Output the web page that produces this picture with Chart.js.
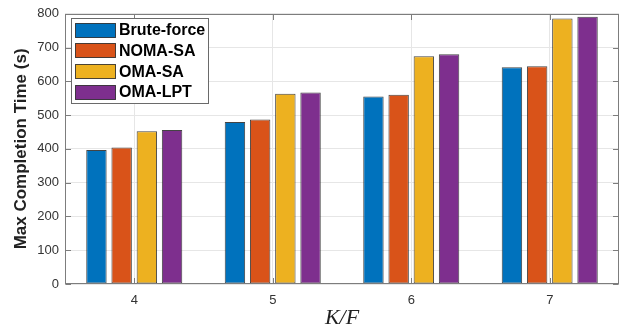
<!DOCTYPE html>
<html>
<head>
<meta charset="utf-8">
<script src="https://cdn.jsdelivr.net/npm/chart.js@4.4.1/dist/chart.umd.min.js"></script>
<style>
  html, body { margin: 0; padding: 0; background: #fff; }
  #wrap { width: 630px; height: 329px; }
</style>
</head>
<body>
<div id="wrap"><canvas id="c" width="630" height="329"></canvas></div>
<script>
const categories = ['4', '5', '6', '7'];
const seriesNames = ['Brute-force', 'NOMA-SA', 'OMA-SA', 'OMA-LPT'];
const bruteForce = [397, 480, 555, 642];
const nomaSA = [404, 487, 560, 645];
const omaSA = [452, 563, 674, 786];
const omaLPT = [456, 567, 680, 791];
const yTicks = [0, 100, 200, 300, 400, 500, 600, 700, 800];
const colors = ['#0072BD', '#D95319', '#EDB120', '#7E2F8E'];

const seriesValues = [bruteForce, nomaSA, omaSA, omaLPT];

const boxPlugin = {
  id: 'matlabBox',
  afterDatasetsDraw(chart) {
    const { ctx, chartArea: { left, right, top, bottom }, scales: { x, y } } = chart;
    ctx.save();
    ctx.strokeStyle = '#7d7d7d';
    ctx.lineWidth = 1;
    const L = Math.round(left) + 0.5, R = Math.round(right) - 0.5;
    const T = Math.round(top) + 0.5, B = Math.round(bottom) - 0.5;
    ctx.strokeRect(L, T, R - L, B - T);
    ctx.beginPath();
    yTicks.forEach(v => {
      const py = Math.round(y.getPixelForValue(v)) + 0.5;
      ctx.moveTo(L, py); ctx.lineTo(L + 5.5, py);
      ctx.moveTo(R, py); ctx.lineTo(R - 5.5, py);
    });
    categories.forEach((c, i) => {
      const px = Math.round(x.getPixelForValue(i)) + 0.5;
      ctx.moveTo(px, B); ctx.lineTo(px, B - 5.5);
      ctx.moveTo(px, T); ctx.lineTo(px, T + 5.5);
    });
    ctx.stroke();
    ctx.restore();
  },
  afterDraw(chart) {
    const { ctx } = chart;
    ctx.save();
    const bx = 71.5, by = 18.5, bw = 137, bh = 85;
    ctx.fillStyle = '#ffffff';
    ctx.fillRect(bx, by, bw, bh);
    ctx.strokeStyle = '#6a6a6a';
    ctx.lineWidth = 1;
    ctx.strokeRect(bx, by, bw, bh);
    ctx.font = 'bold 16px "Liberation Sans", Arial, sans-serif';
    ctx.textBaseline = 'middle';
    ctx.textAlign = 'left';
    chart.data.datasets.forEach((ds, i) => {
      const cy = 29.7 + i * 20.7;
      ctx.fillStyle = ds.backgroundColor;
      ctx.fillRect(75.5, Math.round(cy - 7) + 0.5, 40, 14);
      ctx.strokeStyle = 'rgba(30,30,30,0.8)';
      ctx.strokeRect(75.5, Math.round(cy - 7) + 0.5, 40, 14);
      ctx.fillStyle = '#000';
      ctx.fillText(ds.label, 119, cy + 1);
    });
    ctx.restore();
  }
};

new Chart(document.getElementById('c'), {
  type: 'bar',
  data: {
    labels: categories,
    datasets: seriesNames.map((name, i) => ({
      label: name,
      data: seriesValues[i],
      backgroundColor: colors[i],
      borderColor: 'rgba(35,35,35,0.85)',
      borderWidth: 1,
      borderSkipped: false,
      categoryPercentage: 0.728,
      barPercentage: 0.81
    }))
  },
  options: {
    responsive: false,
    animation: false,
    devicePixelRatio: 1,
    layout: { padding: { top: 13, right: 11, left: 0, bottom: 0 } },
    plugins: { legend: { display: false }, tooltip: { enabled: false } },
    scales: {
      x: {
        grid: { offset: false, color: '#e6e6e6', drawTicks: false },
        border: { display: false },
        ticks: { padding: 9, color: '#333', font: { family: '"Liberation Sans", Arial, sans-serif', size: 13 } },
        title: {
          display: true, text: 'K/F', color: '#222',
          font: { family: '"Liberation Serif", "Times New Roman", serif', style: 'italic', size: 22, lineHeight: 1 },
          padding: { top: 0, bottom: 0 }
        },
        afterFit(scale) { scale.height = 45; }
      },
      y: {
        min: 0, max: 800,
        grid: { color: '#e6e6e6', drawTicks: false },
        border: { display: false },
        afterBuildTicks(scale) { scale.ticks = yTicks.map(v => ({ value: v })); },
        ticks: { padding: 6, color: '#333', font: { family: '"Liberation Sans", Arial, sans-serif', size: 13 } },
        title: {
          display: true, text: 'Max Completion Time (s)', color: '#222',
          font: { family: '"Liberation Sans", Arial, sans-serif', weight: 'bold', size: 17, lineHeight: 1.2 },
          padding: { top: 11, bottom: 0 }
        },
        afterFit(scale) { scale.width = 65; }
      }
    }
  },
  plugins: [boxPlugin]
});
</script>
</body>
</html>
